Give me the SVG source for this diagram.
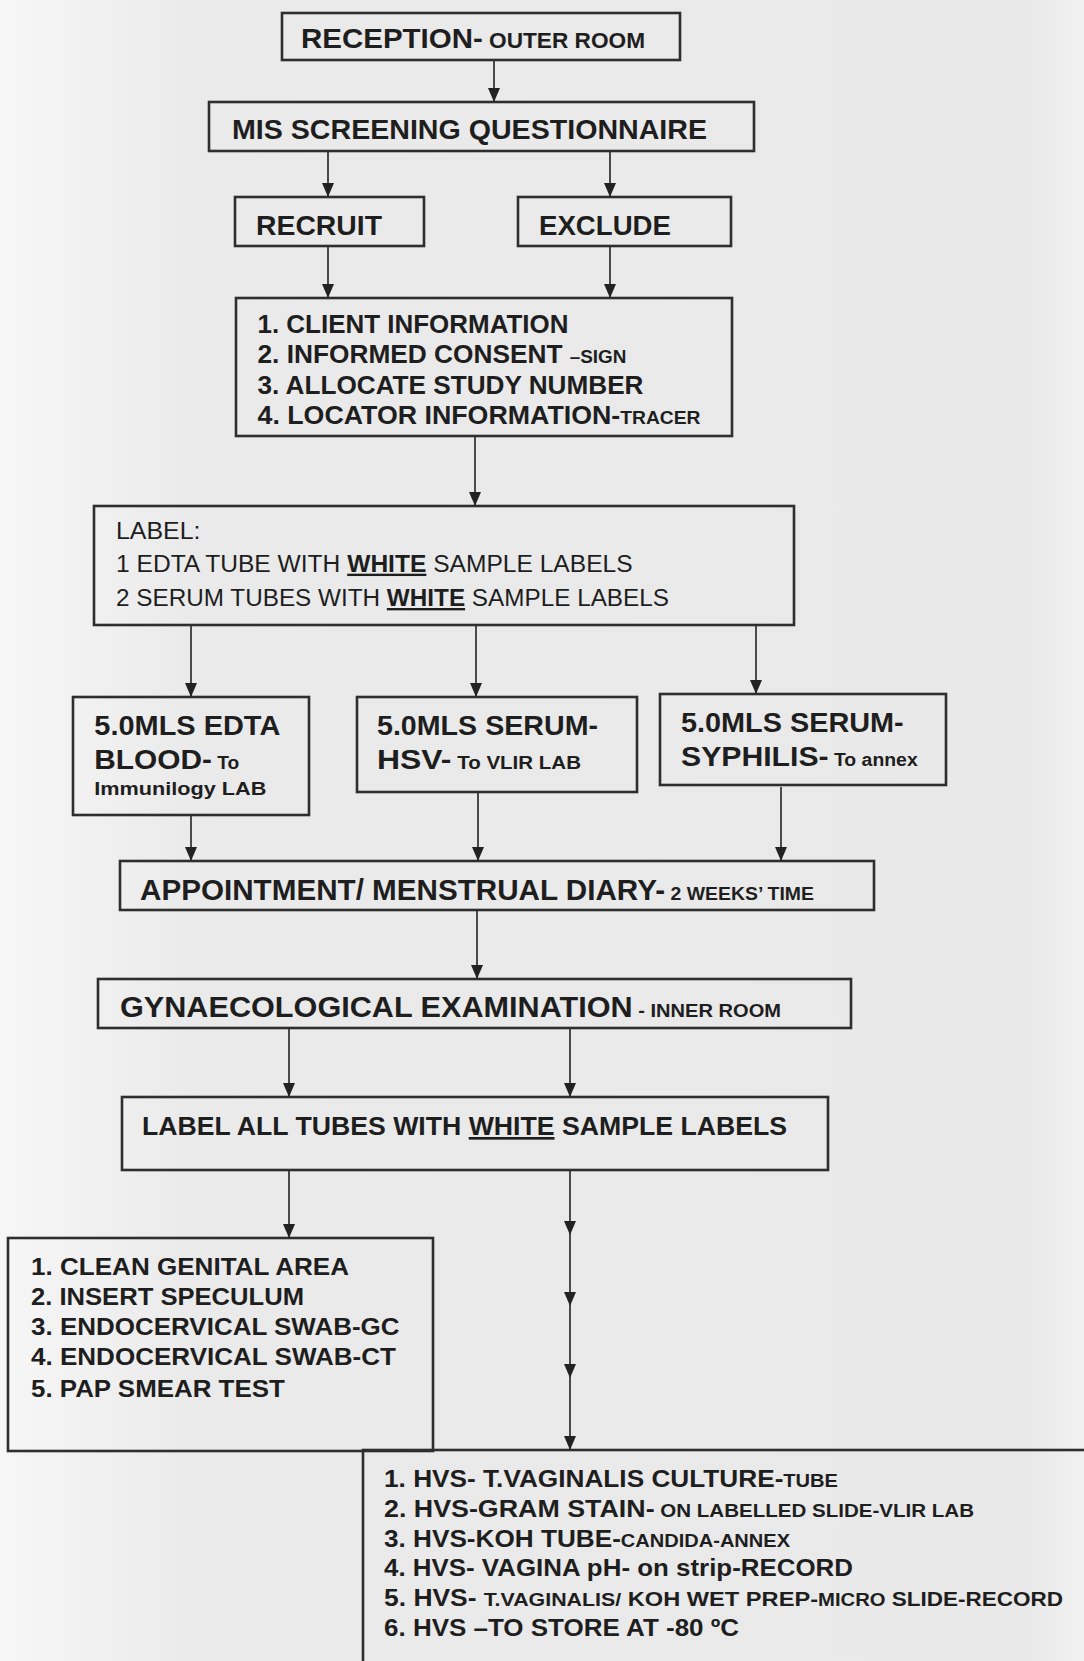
<svg xmlns="http://www.w3.org/2000/svg" width="1084" height="1661" viewBox="0 0 1084 1661">
<defs>
<linearGradient id="bg" x1="0" y1="0" x2="1" y2="0">
<stop offset="0" stop-color="#f6f6f6"/>
<stop offset="0.18" stop-color="#eaeaea"/>
<stop offset="0.95" stop-color="#e9e9e9"/>
<stop offset="1" stop-color="#f1f1f1"/>
</linearGradient>
<marker id="ah" viewBox="0 0 14 12" refX="14" refY="6" markerWidth="14" markerHeight="12" markerUnits="userSpaceOnUse" orient="auto">
<path d="M0,0 L14,6 L0,12 z" fill="#222"/>
</marker>
<style>
.box{fill:none;stroke:#2e2e2e;stroke-width:2.6}
.con{fill:none;stroke:#222;stroke-width:1.6;marker-end:url(#ah)}
text{font-family:"Liberation Sans",Arial,sans-serif;fill:#1e1e1e}
.b{font-weight:bold}
.r{font-weight:normal}
.w{font-weight:bold;text-decoration:underline}
</style>
</defs>
<rect x="0" y="0" width="1084" height="1661" fill="url(#bg)"/>

<g id="connectors">
<path class="con" d="M494,61 V102"/>
<path class="con" d="M328,151 V197"/>
<path class="con" d="M610,151 V197"/>
<path class="con" d="M328,246 V298"/>
<path class="con" d="M610,246 V298"/>
<path class="con" d="M475,436 V506"/>
<path class="con" d="M191,625 V697"/>
<path class="con" d="M476,625 V697"/>
<path class="con" d="M756,625 V694"/>
<path class="con" d="M191,815 V861"/>
<path class="con" d="M478,792 V861"/>
<path class="con" d="M781,787 V861"/>
<path class="con" d="M477,910 V979"/>
<path class="con" d="M289,1028 V1097"/>
<path class="con" d="M570,1028 V1097"/>
<path class="con" d="M289,1170 V1238"/>
<path class="con" d="M570,1170 V1235"/>
<path class="con" d="M570,1235 V1306"/>
<path class="con" d="M570,1306 V1378"/>
<path class="con" d="M570,1378 V1450"/>
</g>

<g id="reception">
<rect class="box" x="282" y="13" width="398" height="47"/>
<text class="b" x="301" y="48" font-size="28" textLength="344" lengthAdjust="spacingAndGlyphs">RECEPTION-<tspan font-size="21.5"> OUTER ROOM</tspan></text>
</g>

<g id="mis">
<rect class="box" x="209" y="102" width="545" height="49"/>
<text class="b" x="232" y="138.5" font-size="28" textLength="475" lengthAdjust="spacingAndGlyphs">MIS SCREENING QUESTIONNAIRE</text>
</g>

<g id="recruit">
<rect class="box" x="235" y="197" width="189" height="49"/>
<text class="b" x="256" y="234.5" font-size="28" textLength="126" lengthAdjust="spacingAndGlyphs">RECRUIT</text>
</g>

<g id="exclude">
<rect class="box" x="518" y="197" width="213" height="49"/>
<text class="b" x="539" y="234.5" font-size="28" textLength="132" lengthAdjust="spacingAndGlyphs">EXCLUDE</text>
</g>

<g id="client-info">
<rect class="box" x="236" y="298" width="496" height="138"/>
<text class="b" x="257.5" y="332.5" font-size="25" textLength="311" lengthAdjust="spacingAndGlyphs">1. CLIENT INFORMATION</text>
<text class="b" x="257.5" y="363" font-size="25" textLength="369" lengthAdjust="spacingAndGlyphs">2. INFORMED CONSENT <tspan font-size="18">–SIGN</tspan></text>
<text class="b" x="257.5" y="393.5" font-size="25" textLength="386" lengthAdjust="spacingAndGlyphs">3. ALLOCATE STUDY NUMBER</text>
<text class="b" x="257.5" y="423.5" font-size="25" textLength="443" lengthAdjust="spacingAndGlyphs">4. LOCATOR INFORMATION-<tspan font-size="18">TRACER</tspan></text>
</g>

<g id="label">
<rect class="box" x="94" y="506" width="700" height="119"/>
<text class="r" x="116" y="538.5" font-size="23.5" textLength="84.5" lengthAdjust="spacingAndGlyphs">LABEL:</text>
<text class="r" x="116" y="571.7" font-size="23.5" textLength="516.6" lengthAdjust="spacingAndGlyphs">1 EDTA TUBE WITH <tspan class="w">WHITE</tspan> SAMPLE LABELS</text>
<text class="r" x="116" y="606" font-size="23.5" textLength="553" lengthAdjust="spacingAndGlyphs">2 SERUM TUBES WITH <tspan class="w">WHITE</tspan> SAMPLE LABELS</text>
</g>

<g id="edta">
<rect class="box" x="73" y="697" width="236" height="118"/>
<text class="b" x="94.3" y="735" font-size="28" textLength="186" lengthAdjust="spacingAndGlyphs">5.0MLS EDTA</text>
<text class="b" x="94.3" y="769.3" font-size="28" textLength="145" lengthAdjust="spacingAndGlyphs">BLOOD-<tspan font-size="18"> To</tspan></text>
<text class="b" x="94.3" y="795" font-size="19" textLength="172" lengthAdjust="spacingAndGlyphs">Immunilogy  LAB</text>
</g>

<g id="hsv">
<rect class="box" x="357" y="697" width="280" height="95"/>
<text class="b" x="377" y="735" font-size="28" textLength="221" lengthAdjust="spacingAndGlyphs">5.0MLS SERUM-</text>
<text class="b" x="377" y="769.3" font-size="28" textLength="204" lengthAdjust="spacingAndGlyphs">HSV-<tspan font-size="18"> To VLIR LAB</tspan></text>
</g>

<g id="syphilis">
<rect class="box" x="660" y="694" width="286" height="91"/>
<text class="b" x="681" y="731.7" font-size="28" textLength="222.7" lengthAdjust="spacingAndGlyphs">5.0MLS SERUM-</text>
<text class="b" x="681" y="766" font-size="28" textLength="236.7" lengthAdjust="spacingAndGlyphs">SYPHILIS-<tspan font-size="18"> To annex</tspan></text>
</g>

<g id="appointment">
<rect class="box" x="120" y="861" width="754" height="49"/>
<text class="b" x="140" y="899.5" font-size="29" textLength="674" lengthAdjust="spacingAndGlyphs">APPOINTMENT/ MENSTRUAL DIARY-<tspan font-size="19"> 2 WEEKS’ TIME</tspan></text>
</g>

<g id="gynae">
<rect class="box" x="98" y="979" width="753" height="49"/>
<text class="b" x="120" y="1017" font-size="29" textLength="661" lengthAdjust="spacingAndGlyphs">GYNAECOLOGICAL EXAMINATION<tspan font-size="19"> - INNER ROOM</tspan></text>
</g>

<g id="label-all">
<rect class="box" x="122" y="1097" width="706" height="73"/>
<text class="b" x="142" y="1135" font-size="26.5" textLength="645" lengthAdjust="spacingAndGlyphs">LABEL ALL TUBES WITH <tspan class="w">WHITE</tspan> SAMPLE LABELS</text>
</g>

<g id="cervical">
<rect class="box" x="8" y="1238" width="425" height="213"/>
<text class="b" x="31" y="1275" font-size="24.5" textLength="318" lengthAdjust="spacingAndGlyphs">1. CLEAN GENITAL AREA</text>
<text class="b" x="31" y="1305" font-size="24.5" textLength="273" lengthAdjust="spacingAndGlyphs">2. INSERT SPECULUM</text>
<text class="b" x="31" y="1335" font-size="24.5" textLength="368.6" lengthAdjust="spacingAndGlyphs">3. ENDOCERVICAL SWAB-GC</text>
<text class="b" x="31" y="1365" font-size="24.5" textLength="365" lengthAdjust="spacingAndGlyphs">4. ENDOCERVICAL SWAB-CT</text>
<text class="b" x="31" y="1396.5" font-size="24.5" textLength="253.8" lengthAdjust="spacingAndGlyphs">5. PAP SMEAR TEST</text>
</g>

<g id="hvs">
<rect class="box" x="363" y="1450" width="740" height="230"/>
<text class="b" x="384" y="1487" font-size="23.5" textLength="454" lengthAdjust="spacingAndGlyphs">1. HVS- T.VAGINALIS CULTURE-<tspan font-size="18">TUBE</tspan></text>
<text class="b" x="384" y="1517" font-size="23.5" textLength="590" lengthAdjust="spacingAndGlyphs">2. HVS-GRAM STAIN-<tspan font-size="18"> ON LABELLED SLIDE-VLIR LAB</tspan></text>
<text class="b" x="384" y="1547" font-size="23.5" textLength="406" lengthAdjust="spacingAndGlyphs">3. HVS-KOH TUBE-<tspan font-size="18">CANDIDA-ANNEX</tspan></text>
<text class="b" x="384" y="1576" font-size="23.5" textLength="469" lengthAdjust="spacingAndGlyphs">4. HVS- VAGINA pH- on strip-RECORD</text>
<text class="b" x="384" y="1606" font-size="23.5" textLength="679" lengthAdjust="spacingAndGlyphs">5. HVS- <tspan font-size="19">T.VAGINALIS/</tspan><tspan font-size="21"> KOH WET PREP-</tspan><tspan font-size="18">MICRO</tspan><tspan font-size="20"> SLIDE-RECORD</tspan></text>
<text class="b" x="384" y="1636" font-size="23.5" textLength="355" lengthAdjust="spacingAndGlyphs">6. HVS –TO STORE AT -80 ºC</text>
</g>
</svg>
